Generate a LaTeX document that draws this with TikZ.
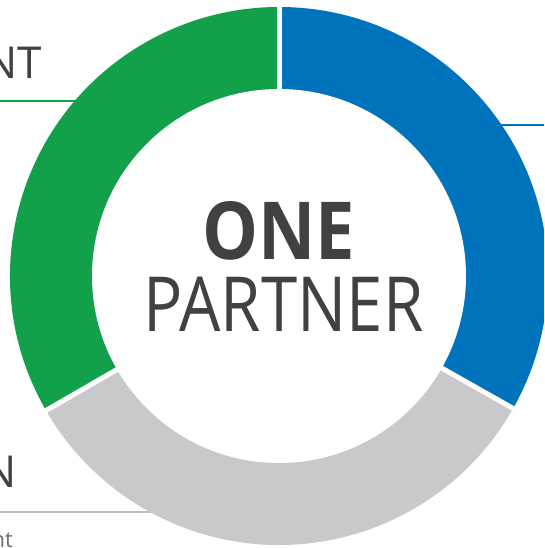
\documentclass[tikz,border=0pt]{standalone}
\usepackage{fontspec}
\usepackage{graphicx}
\setmainfont{Open Sans}
\usetikzlibrary{calc}
\definecolor{ringblue}{HTML}{0073BD}
\definecolor{ringgreen}{HTML}{12A04B}
\definecolor{ringgray}{HTML}{C8C9CB}
\definecolor{txtdark}{HTML}{414042}
\definecolor{txtlight}{HTML}{6D6E71}
\definecolor{linegray}{HTML}{BCBEC0}
\tikzset{
  sector/.style={draw=none},
  gapline/.style={white, line width=5pt},
  leader/.style={line width=2.2pt},
  bigtxt/.style={inner sep=0pt, text=txtdark, font=\fontsize{44}{44}\selectfont},
  smalltxt/.style={inner sep=0pt, text=txtlight, font=\fontsize{22}{22}\selectfont}
}
\begin{document}
\begin{tikzpicture}[x=1pt,y=1pt]
\useasboundingbox (0,0) rectangle (544,548);
\clip (0,0) rectangle (544,548);
\coordinate (c) at (279,272);
% leader line end points under the ring
\coordinate (gE) at ($(c)+(139.4:262)$);
\coordinate (bE) at ($(c)+(34.15:262)$);
\coordinate (yE) at ($(c)+(241.3:262)$);
\coordinate (gS) at (0,447);
\coordinate (bS) at (544,423);
\coordinate (yS) at (0,36);
\draw[leader, ringgreen] (gS) -- (gE |- gS);
\draw[leader, ringblue] (bS) -- (bE |- bS);
\draw[leader, linegray] (yS) -- (yE |- yS);
% ring
\fill[sector, ringblue] (c) -- ++(90:269) arc[start angle=90, end angle=-29.5, radius=269] -- cycle;
\fill[sector, ringgray] (c) -- ++(-29.5:269) arc[start angle=-29.5, end angle=-150, radius=269] -- cycle;
\fill[sector, ringgreen] (c) -- ++(210:269) arc[start angle=210, end angle=90, radius=269] -- cycle;
\draw[gapline] (c) -- ++(90:275);
\draw[gapline] (c) -- ++(-29.5:275);
\draw[gapline] (c) -- ++(210:275);
\fill[white] (c) circle[radius=187];
% texts
\node[anchor=base, inner sep=0pt, text=txtdark, font=\fontsize{80}{80}\selectfont\bfseries] (one) at (279,288) {\scalebox{0.88}[1]{ONE}};
\node[anchor=base, inner sep=0pt, text=txtdark, font=\fontsize{76}{76}\selectfont] (partner) at (283.5,216) {\scalebox{0.86}[1]{PARTNER}};
\node[bigtxt, anchor=base east] (nt) at (42,469) {NT};
\node[bigtxt, anchor=base east] (n) at (16.5,60) {N};
\node[smalltxt, anchor=base east] (smallnt) at (13,1) {nt};
\end{tikzpicture}
\end{document}
